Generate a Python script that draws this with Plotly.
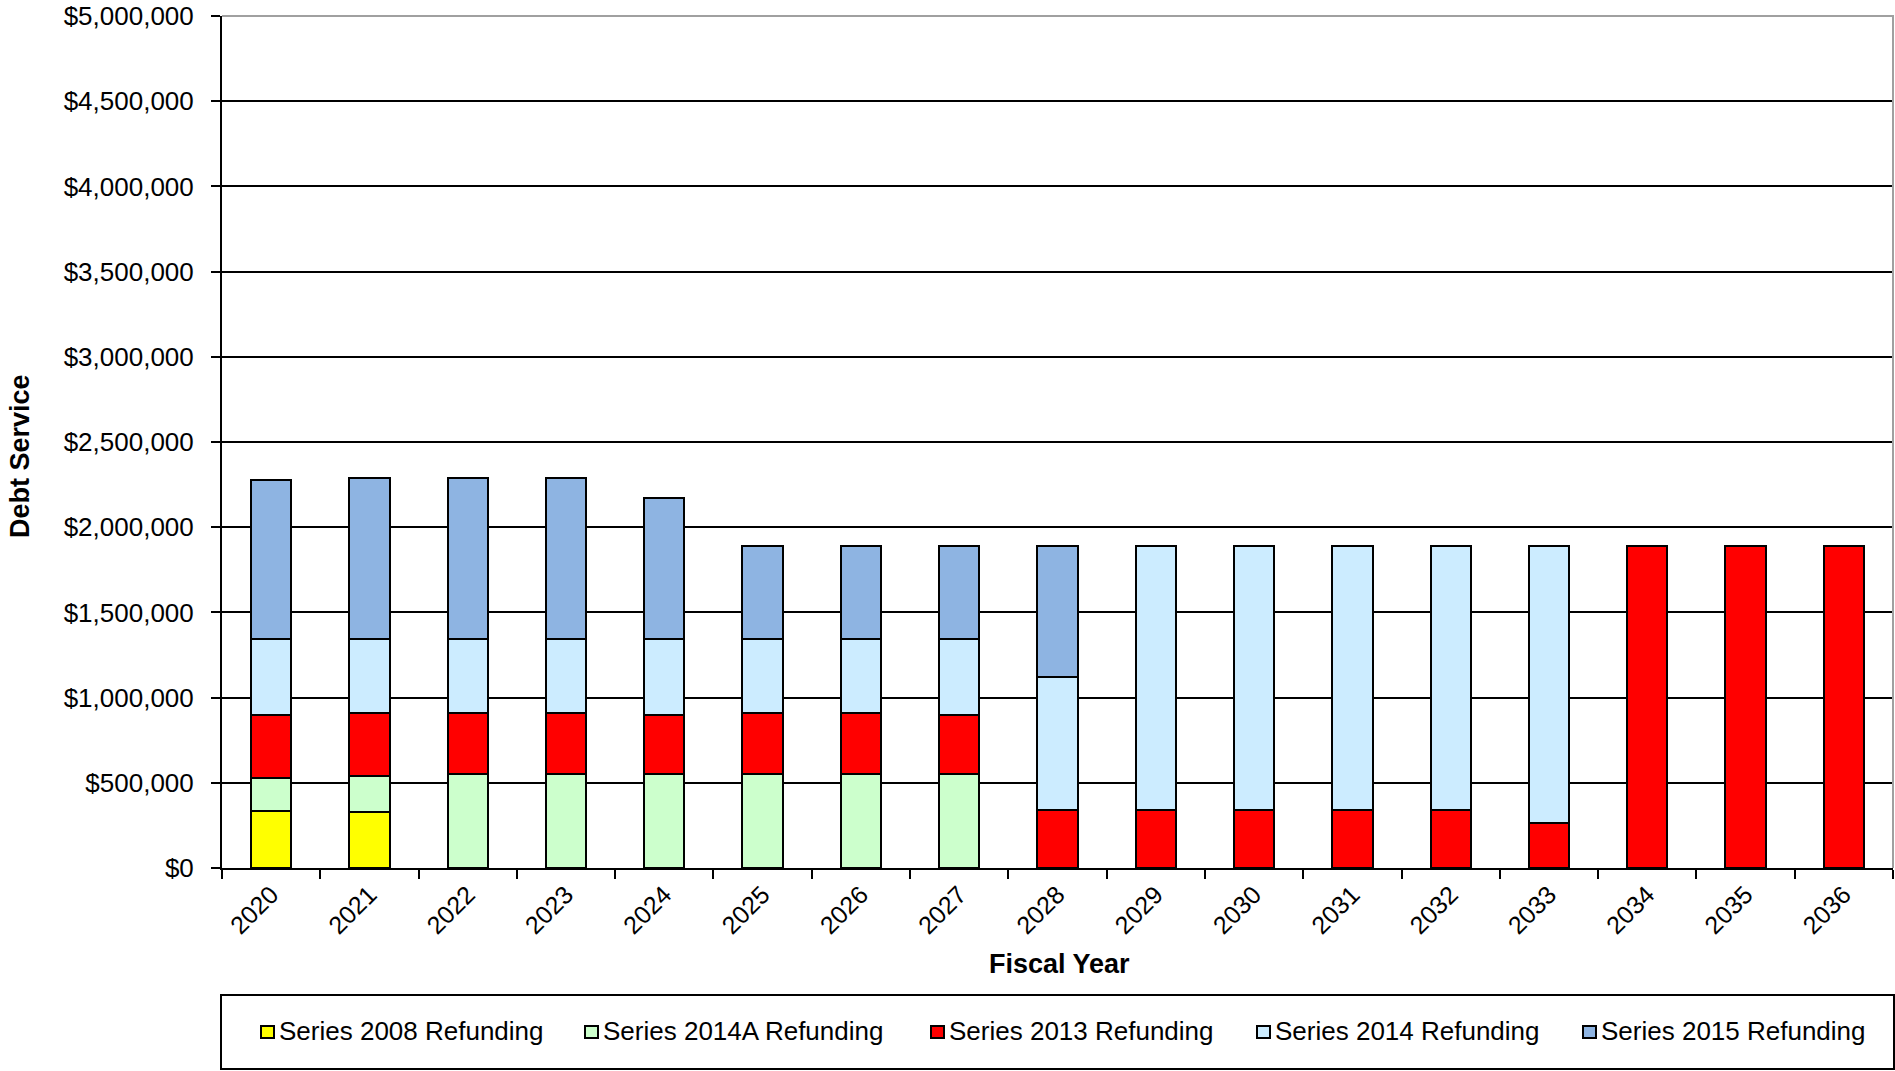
import plotly.graph_objects as go

# Fiscal years on the category axis
years = [str(y) for y in range(2020, 2037)]

# Annual debt service by refunding series (USD); None = no payment that year
series_2008 = [333000, 329000, None, None, None, None, None, None, None,
               None, None, None, None, None, None, None, None]
series_2014a = [194000, 210000, 549000, 549000, 549000, 549000, 549000, 549000, None,
                None, None, None, None, None, None, None, None]
series_2013 = [373000, 373000, 362000, 362000, 351000, 362000, 362000, 351000, 343000,
               343000, 343000, 343000, 343000, 263000, 1891000, 1891000, 1891000]
series_2014 = [441000, 430000, 430000, 430000, 441000, 430000, 430000, 441000, 778000,
               1548000, 1548000, 1548000, 1548000, 1628000, None, None, None]
series_2015 = [936000, 946000, 946000, 946000, 830000, 550000, 550000, 550000, 770000,
               None, None, None, None, None, None, None, None]

series = [
    ("Series 2008 Refunding", series_2008, "#FFFF00"),
    ("Series 2014A Refunding", series_2014a, "#CCFFCC"),
    ("Series 2013 Refunding", series_2013, "#FF0000"),
    ("Series 2014 Refunding", series_2014, "#CCECFF"),
    ("Series 2015 Refunding", series_2015, "#8EB4E2"),
]

FONT = "Liberation Sans, Arial, sans-serif"

# Figure geometry (pixels) used to place the legend strip in paper space
W, H = 1895, 1071
ML, MR, MT, MB = 222, 2, 16, 203
PW, PH = W - ML - MR, H - MT - MB


def px_x(x):
    return (x - ML) / PW


def px_y(y):
    return (H - MB - y) / PH


# left edge of each legend key, in pixels
legend_key_left = [261, 585, 931, 1257, 1583]

fig = go.Figure()
for name, vals, color in series:
    fig.add_trace(go.Bar(
        x=years, y=vals, name=name,
        marker=dict(color=color, line=dict(color="black", width=2)),
    ))

annotations = [
    dict(text="<b>Debt Service</b>", xref="paper", yref="paper",
         x=px_x(20), y=px_y(456), xanchor="center", yanchor="middle",
         textangle=-90, showarrow=False,
         font=dict(size=27, family=FONT, color="black")),
    dict(text="<b>Fiscal Year</b>", xref="paper", yref="paper",
         x=px_x(1059), y=px_y(964), xanchor="center", yanchor="middle",
         showarrow=False,
         font=dict(size=27, family=FONT, color="black")),
]

shapes = [
    # gray plot-area border along the top and right edges
    dict(type="path", xref="paper", yref="paper",
         path="M 0,1 L 1,1 L 1,0", layer="above",
         line=dict(color="#A0A0A0", width=2)),
    # frame around the legend
    dict(type="rect", xref="paper", yref="paper",
         x0=px_x(221), x1=px_x(1894), y0=px_y(1069), y1=px_y(995),
         line=dict(color="black", width=2)),
]

# legend strip: colour key plus label for each series
for (name, _, color), left in zip(series, legend_key_left):
    shapes.append(dict(
        type="rect", xref="paper", yref="paper",
        x0=px_x(left), x1=px_x(left + 13), y0=px_y(1038), y1=px_y(1026),
        fillcolor=color, line=dict(color="black", width=2),
    ))
    annotations.append(dict(
        text=name, xref="paper", yref="paper",
        x=px_x(left + 16), y=px_y(1031), xanchor="left", yanchor="middle",
        showarrow=False,
        font=dict(size=26, family=FONT, color="black"),
    ))

fig.update_layout(
    width=W, height=H,
    margin=dict(l=ML, r=MR, t=MT, b=MB),
    barmode="stack",
    bargap=0.59,
    paper_bgcolor="white",
    plot_bgcolor="white",
    font=dict(family=FONT, color="black", size=26),
    showlegend=False,
    xaxis=dict(
        type="category",
        tickangle=-45,
        tickson="boundaries",
        ticks="outside", ticklen=9, tickwidth=2, tickcolor="black",
        showline=True, linecolor="black", linewidth=2,
        showgrid=False,
        tickfont=dict(size=25, family=FONT, color="black"),
    ),
    yaxis=dict(
        range=[0, 5000000],
        tick0=0, dtick=500000,
        tickprefix="$", tickformat=",d",
        ticks="outside", ticklen=9, tickwidth=2, tickcolor="black",
        ticklabelstandoff=12,
        showline=True, linecolor="black", linewidth=2,
        showgrid=True, gridcolor="black", gridwidth=2,
        zeroline=False,
        tickfont=dict(size=26, family=FONT, color="black"),
    ),
    annotations=annotations,
    shapes=shapes,
)

fig.write_html("out.html")
